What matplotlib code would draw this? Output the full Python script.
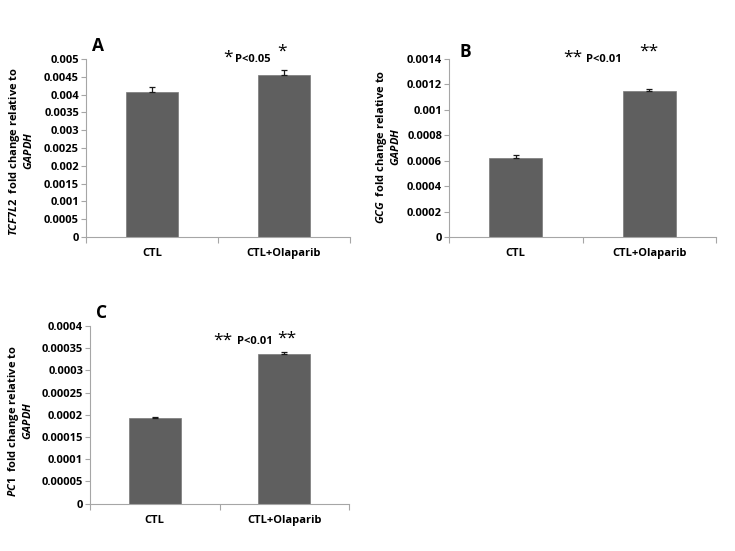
import matplotlib
matplotlib.use("Agg")
import matplotlib.pyplot as plt
from matplotlib.ticker import FixedLocator

FAM = 'Open Sans'
plt.rcParams['font.family'] = [FAM, 'DejaVu Sans']
plt.rcParams['font.weight'] = 'bold'
plt.rcParams['mathtext.fontset'] = 'custom'
plt.rcParams['mathtext.it'] = FAM + ':italic:bold'
plt.rcParams['mathtext.bf'] = FAM + ':bold'
plt.rcParams['mathtext.rm'] = FAM + ':bold'

categories = ["CTL", "CTL+Olaparib"]

tcf7l2_values = [0.00406, 0.00454]
tcf7l2_errors = [0.00014, 0.00016]
tcf7l2_ticks = [0, 0.0005, 0.001, 0.0015, 0.002, 0.0025, 0.003, 0.0035, 0.004, 0.0045, 0.005]
tcf7l2_ticklabels = ["0", "0.0005", "0.001", "0.0015", "0.002", "0.0025", "0.003", "0.0035", "0.004", "0.0045", "0.005"]

gcg_values = [0.000620, 0.001148]
gcg_errors = [0.000028, 0.000016]
gcg_ticks = [0, 0.0002, 0.0004, 0.0006, 0.0008, 0.001, 0.0012, 0.0014]
gcg_ticklabels = ["0", "0.0002", "0.0004", "0.0006", "0.0008", "0.001", "0.0012", "0.0014"]

pc1_values = [0.000193, 0.000336]
pc1_errors = [0.000002, 0.000006]
pc1_ticks = [0, 0.00005, 0.0001, 0.00015, 0.0002, 0.00025, 0.0003, 0.00035, 0.0004]
pc1_ticklabels = ["0", "0.00005", "0.0001", "0.00015", "0.0002", "0.00025", "0.0003", "0.00035", "0.0004"]

W, H = 735, 551
fig = plt.figure(figsize=(W / 100, H / 100), dpi=100)

def fx(px):
    return px / W

def fy(py):
    return 1 - py / H

def make_axes(left, right, top, bottom):
    return fig.add_axes([fx(left), fy(bottom), fx(right - left), (bottom - top) / H])

BAR = '#5f5f5f'
SPINE = '#a6a6a6'
FS = 8

def draw_panel(ax, values, errors, ticks, ticklabels, ymax):
    x = list(range(len(categories)))
    ax.bar(x, values, width=0.40, color=BAR, edgecolor='#7a7a7a', linewidth=0.5, zorder=2)
    ax.errorbar(x, values, yerr=[[0] * len(errors), errors], fmt='none',
                ecolor='#1a1a1a', elinewidth=0.9, capsize=2.5, capthick=0.9, zorder=3)
    ax.set_xlim(-0.5, len(categories) - 0.5)
    ax.set_ylim(0, ymax)
    ax.set_xticks(x)
    ax.set_xticklabels(categories, fontsize=FS, fontweight='bold')
    ax.xaxis.set_minor_locator(FixedLocator([-0.5, 0.5, 1.5]))
    ax.tick_params(axis='x', which='major', length=0, pad=8)
    ax.tick_params(axis='x', which='minor', length=4, color=SPINE, width=0.8)
    ax.set_yticks(ticks)
    ax.set_yticklabels(ticklabels, fontsize=FS, fontweight='bold')
    ax.tick_params(axis='y', length=3.5, color=SPINE, width=0.8, pad=1.5)
    for s in ['top', 'right']:
        ax.spines[s].set_visible(False)
    for s in ['left', 'bottom']:
        ax.spines[s].set_color(SPINE)
        ax.spines[s].set_linewidth(0.8)

axA = make_axes(86, 350, 59, 237)
draw_panel(axA, tcf7l2_values, tcf7l2_errors, tcf7l2_ticks, tcf7l2_ticklabels, 0.005)
axB = make_axes(449, 716, 59, 237)
draw_panel(axB, gcg_values, gcg_errors, gcg_ticks, gcg_ticklabels, 0.0014)
axC = make_axes(90, 349, 326, 503.5)
draw_panel(axC, pc1_values, pc1_errors, pc1_ticks, pc1_ticklabels, 0.0004)

# y labels
fig.text(fx(21), fy(151), "$\\mathit{TCF7L2}$  fold change relative to\n$\\mathit{GAPDH}$",
         rotation=90, ha='center', va='center', multialignment='center', fontsize=FS, fontweight='bold',
         linespacing=1.05)
fig.text(fx(388), fy(147), "$\\mathit{GCG}$  fold change relative to\n$\\mathit{GAPDH}$",
         rotation=90, ha='center', va='center', multialignment='center', fontsize=FS, fontweight='bold',
         linespacing=1.05)
fig.text(fx(20), fy(421), "$\\mathit{PC1}$  fold change relative to\n$\\mathit{GAPDH}$",
         rotation=90, ha='center', va='center', multialignment='center', fontsize=FS, fontweight='bold',
         linespacing=1.05)

# panel letters
for letter, (px, py) in zip(["A", "B", "C"], [(92, 46), (459, 52), (96, 313)]):
    fig.text(fx(px), fy(py), letter, ha='left', va='center', fontsize=12.5, fontweight='bold')

# significance annotations
def signif(star, s1, ptxt, p_left, p_y, s2):
    fig.text(fx(s1[0]), fy(s1[1] + 4), star, ha='center', va='center', fontsize=12.5, fontweight='normal')
    fig.text(fx(p_left), fy(p_y), ptxt, ha='left', va='center', fontsize=FS, fontweight='bold')
    fig.text(fx(s2[0]), fy(s2[1] + 4), star, ha='center', va='center', fontsize=12.5, fontweight='normal')

signif("*", (228, 54), "P<0.05", 235, 59, (282, 48))
signif("**", (573, 54), "P<0.01", 586, 59, (649, 48))
signif("**", (223, 337), "P<0.01", 237, 342, (287, 335))

fig.savefig("out.png", dpi=100, facecolor='white')
